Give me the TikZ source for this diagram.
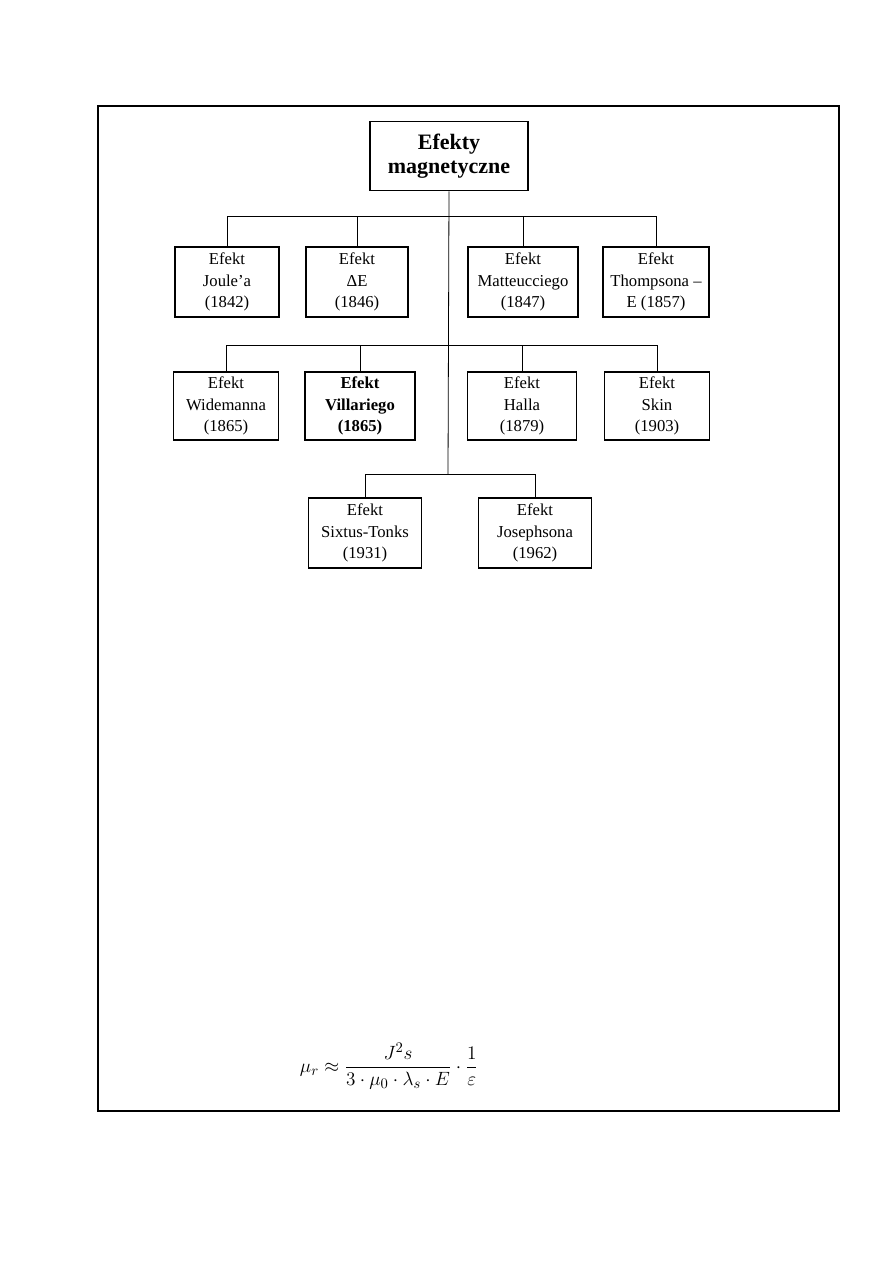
\documentclass[tikz,border=0pt]{standalone}
\usepackage{amsmath}
\usepackage{fontspec}
\setmainfont{Liberation Serif}
\begin{document}
\begin{tikzpicture}[x=0.75pt,y=-0.75pt,
  box/.style={draw,line width=1.4pt,align=center,inner sep=0pt,font=\fontsize{12.5}{16}\selectfont},
  conn/.style={line width=0.6pt},
  frame/.style={line width=1.2pt}]
\useasboundingbox (0,0) rectangle (893,1263);
\draw[frame] (98,106) rectangle (839,1111);
\node[box,minimum width=158*0.75pt,minimum height=69*0.75pt,font=\bfseries\fontsize{16.5}{18}\selectfont] (top) at (449,156) {Efekty\\magnetyczne};
% row 1
\node[box,minimum width=104*0.75pt,minimum height=70*0.75pt] (joule) at (227,282) {Efekt\\Joule'a\\(1842)};
\node[box,minimum width=102*0.75pt,minimum height=70*0.75pt] (de) at (357,282) {Efekt\\ΔE\\(1846)};
\node[box,minimum width=110*0.75pt,minimum height=70*0.75pt] (matt) at (523,282) {Efekt\\Matteucciego\\(1847)};
\node[box,minimum width=106*0.75pt,minimum height=70*0.75pt] (thom) at (656,282) {Efekt\\Thompsona –\\E (1857)};
% row 2
\node[box,minimum width=105*0.75pt,minimum height=68*0.75pt] (wide) at (226,406) {Efekt\\Widemanna\\(1865)};
\node[box,minimum width=110*0.75pt,minimum height=68*0.75pt,font=\bfseries\fontsize{12.5}{16}\selectfont] (vill) at (360,406) {Efekt\\Villariego\\(1865)};
\node[box,minimum width=109*0.75pt,minimum height=68*0.75pt] (hall) at (522,406) {Efekt\\Halla\\(1879)};
\node[box,minimum width=105*0.75pt,minimum height=68*0.75pt] (skin) at (657,406) {Efekt\\Skin\\(1903)};
% row 3
\node[box,minimum width=113*0.75pt,minimum height=70*0.75pt] (sixt) at (365,533) {Efekt\\Sixtus-Tonks\\(1931)};
\node[box,minimum width=113*0.75pt,minimum height=70*0.75pt] (jos) at (535,533) {Efekt\\Josephsona\\(1962)};
% connectors
\coordinate (j1) at (448,216);
\coordinate (j2) at (448,345);
\coordinate (j3) at (448,474);
\draw[conn] (top.south) -- (j3);
\draw[conn] (j1) -| (joule.north);
\draw[conn] (j1) -| (de.north);
\draw[conn] (j1) -| (matt.north);
\draw[conn] (j1) -| (thom.north);
\draw[conn] (j2) -| (wide.north);
\draw[conn] (j2) -| (vill.north);
\draw[conn] (j2) -| (hall.north);
\draw[conn] (j2) -| (skin.north);
\draw[conn] (j3) -| (sixt.north);
\draw[conn] (j3) -| (jos.north);
% formula
\node[inner sep=0pt,font=\fontsize{15}{17}\selectfont] (f) at (389,1066) {$\mu_r \approx \dfrac{J^2 s}{3\cdot\mu_0\cdot\lambda_s\cdot E}\cdot\dfrac{1}{\varepsilon}$};
\end{tikzpicture}
\end{document}
